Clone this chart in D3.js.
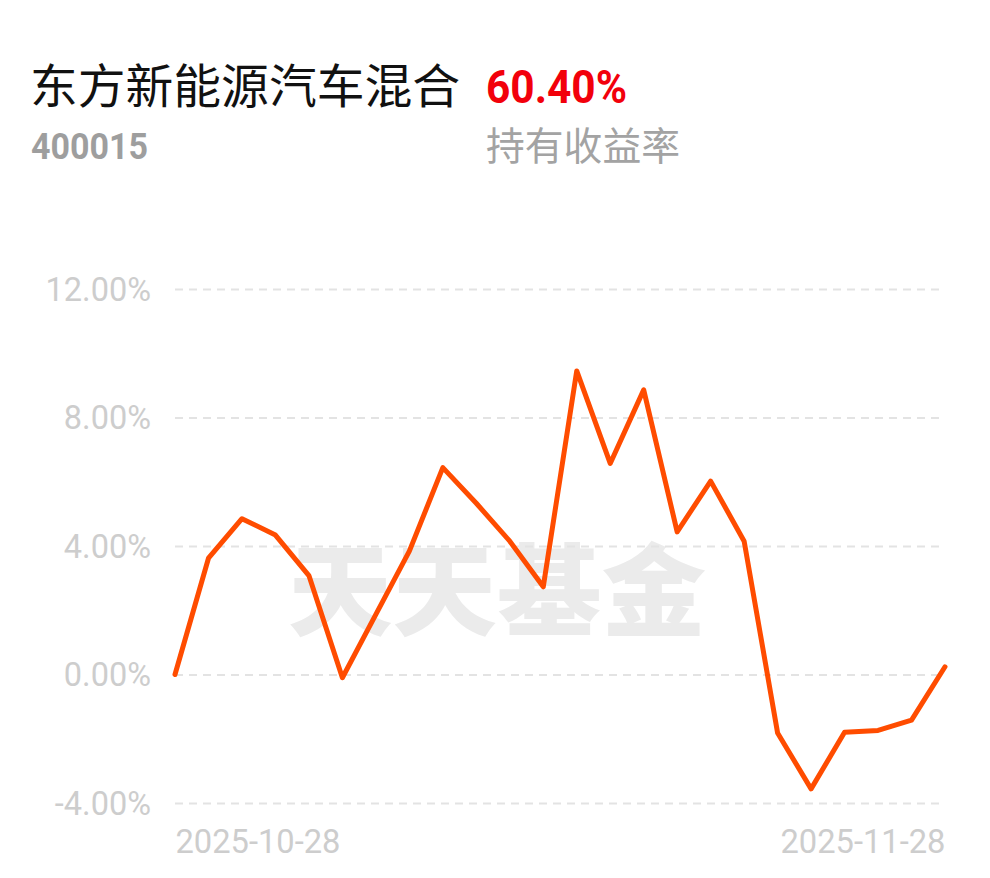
<!DOCTYPE html>
<html>
<head>
<meta charset="utf-8">
<script src="https://cdn.jsdelivr.net/npm/d3@7"></script>
<style>
  html, body { margin: 0; padding: 0; background: #fff; }
  svg { display: block; }
</style>
</head>
<body>
<div class="container"></div>
<script>
const width = 990,
    height = 878,
    plotLeft = 175,
    plotRight = 945,
    plotTop = 289,
    plotBottom = 803;
let svgContainer;

// fund info
const fundName = "东方新能源汽车混合";
const fundCode = "400015";
const holdReturn = "60.40%";
const holdLabel = "持有收益率";

// trading days 2025-10-28 .. 2025-11-28
const dates = [
  "2025-10-28", "2025-10-29", "2025-10-30", "2025-10-31",
  "2025-11-03", "2025-11-04", "2025-11-05", "2025-11-06", "2025-11-07",
  "2025-11-10", "2025-11-11", "2025-11-12", "2025-11-13", "2025-11-14",
  "2025-11-17", "2025-11-18", "2025-11-19", "2025-11-20", "2025-11-21",
  "2025-11-24", "2025-11-25", "2025-11-26", "2025-11-27", "2025-11-28"
];
const returns = [
  0.00, 3.62, 4.85, 4.34, 3.08, -0.10, 1.87, 3.84, 6.44,
  5.33, 4.15, 2.73, 9.45, 6.57, 8.86, 4.44, 6.02, 4.15,
  -1.82, -3.56, -1.80, -1.74, -1.42, 0.24
];
const yTicks = [-4, 0, 4, 8, 12];
const xTickLabels = ["2025-10-28", "2025-11-28"];

const createCanvas = () => {
  return d3.select('.container')
           .append('svg')
           .attr('width', width)
           .attr('height', height);
};

const createHeader = () => {
  svgContainer.append('text')
              .attr('x', 30).attr('y', 103)
              .attr('textLength', 430)
              .attr('lengthAdjust', 'spacingAndGlyphs')
              .style('font-family', '"Noto Sans CJK SC", sans-serif')
              .style('font-size', '47px')
              .style('fill', '#111')
              .text(fundName);

  svgContainer.append('text')
              .attr('x', 486).attr('y', 103)
              .attr('textLength', 141)
              .attr('lengthAdjust', 'spacingAndGlyphs')
              .style('font-family', 'Roboto, sans-serif')
              .style('font-weight', 'bold')
              .style('font-size', '46px')
              .style('fill', '#f2000b')
              .text(holdReturn);

  svgContainer.append('text')
              .attr('x', 31).attr('y', 159)
              .attr('textLength', 117)
              .attr('lengthAdjust', 'spacingAndGlyphs')
              .style('font-family', 'Roboto, sans-serif')
              .style('font-weight', 'bold')
              .style('font-size', '36px')
              .style('fill', '#9e9e9e')
              .text(fundCode);

  svgContainer.append('text')
              .attr('x', 486).attr('y', 160)
              .attr('textLength', 194)
              .attr('lengthAdjust', 'spacingAndGlyphs')
              .style('font-family', '"Noto Sans CJK SC", sans-serif')
              .style('font-size', '39px')
              .style('fill', '#a3a3a3')
              .text(holdLabel);
};

const defineScales = () => {
  const xScale = d3.scalePoint()
                   .domain(dates)
                   .range([plotLeft, plotRight]);
  const yScale = d3.scaleLinear()
                   .domain([-4, 12])
                   .range([plotBottom, plotTop]);
  return { xScale, yScale };
};

const createWatermark = () => {
  svgContainer.append('text')
              .attr('x', 497).attr('y', 628)
              .attr('text-anchor', 'middle')
              .attr('textLength', 418)
              .attr('lengthAdjust', 'spacingAndGlyphs')
              .style('font-family', '"Noto Sans CJK SC", sans-serif')
              .style('font-weight', 900)
              .style('font-size', '100px')
              .style('fill', '#ebebeb')
              .text("天天基金");
};

const createAxes = (scales) => {
  const yAxis = svgContainer.append('g')
              .attr('id', 'y-axis')
              .call(d3.axisLeft(scales.yScale)
                      .tickValues(yTicks)
                      .tickSize(-(plotRight - plotLeft))
                      .tickPadding(24)
                      .tickFormat(d => d.toFixed(2) + '%'))
              .attr('transform', `translate(${plotLeft},0)`);
  yAxis.select('.domain').remove();
  yAxis.selectAll('line')
       .attr('stroke', '#e3e3e3')
       .attr('stroke-width', 2)
       .attr('stroke-dasharray', '8,6');
  yAxis.selectAll('text')
       .attr('dy', '0.34em')
       .style('font-family', 'Roboto, sans-serif')
       .style('font-size', '32.5px')
       .style('fill', '#cdcdcd');

  const xAxis = svgContainer.append('g')
              .attr('id', 'x-axis')
              .call(d3.axisBottom(scales.xScale)
                      .tickValues(xTickLabels)
                      .tickSize(0)
                      .tickPadding(0))
              .attr('transform', `translate(0,${plotBottom})`);
  xAxis.select('.domain').remove();
  xAxis.selectAll('text')
       .attr('y', 50)
       .attr('dy', 0)
       .attr('text-anchor', (d, i) => i === 0 ? 'start' : 'end')
       .attr('textLength', 165)
       .attr('lengthAdjust', 'spacingAndGlyphs')
       .style('font-family', 'Roboto, sans-serif')
       .style('font-size', '34px')
       .style('fill', '#cdcdcd');
};

const createLine = (scales) => {
  const line = d3.line()
                 .x((d, i) => scales.xScale(dates[i]))
                 .y(d => scales.yScale(d));
  svgContainer.append('path')
              .datum(returns)
              .attr('d', line)
              .attr('fill', 'none')
              .attr('stroke', '#ff4c00')
              .attr('stroke-width', 5)
              .attr('stroke-linejoin', 'round')
              .attr('stroke-linecap', 'round');
};

const drawChart = () => {
  svgContainer = createCanvas();
  createHeader();
  const scales = defineScales();
  createWatermark();
  createAxes(scales);
  createLine(scales);
};

drawChart();
</script>
</body>
</html>
